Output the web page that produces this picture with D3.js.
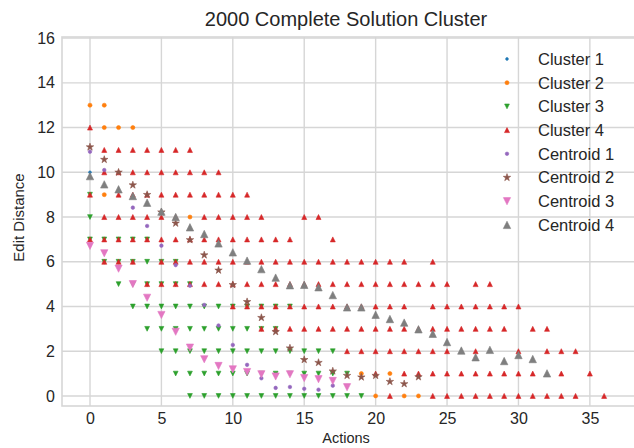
<!DOCTYPE html>
<html>
<head>
<meta charset="utf-8">
<script src="https://cdn.jsdelivr.net/npm/d3@7/dist/d3.min.js"></script>
<style>
  body { margin: 0; background: #fff; }
  svg text { font-family: "Liberation Sans", Arial, sans-serif; fill: #262626; }
</style>
</head>
<body>
<script>
// rows: [edit distance, [actions...]]
const cluster1Rows = [[10, [0]]];
const cluster2Rows = [
  [13, [0, 1]], [12, [1, 2, 3]], [9, [1]], [8, [7]],
  [1, [19, 21]], [0, [20, 22, 23]]
];
const cluster3Rows = [
  [9, [0]], [8, [0]], [7, [0, 1, 2, 3, 4]], [6, [1, 2, 3, 4, 5, 6]],
  [5, [2, 3, 4, 5, 6, 7]], [4, [3, 4, 5, 6, 7, 8, 9, 10, 11, 12, 13, 14]],
  [3, [4, 5, 6, 7, 8, 9, 10, 11, 12, 13]],
  [2, [5, 6, 7, 8, 9, 10, 11, 12, 13, 14, 15, 16, 17]],
  [1, [6, 7, 8, 9, 10, 11, 12, 13, 14, 15, 16, 17, 18]],
  [0, [7, 8, 9, 10, 11, 12, 13, 14, 15, 16, 17, 18, 19]]
];
const cluster4Rows = [
  [12, [0]],
  [11, [1, 2, 3, 4, 5, 6, 7]],
  [10, [1, 2, 3, 4, 5, 6, 7, 8, 9]],
  [9, [0, 2, 3, 4, 5, 6, 7, 8, 9, 10, 11]],
  [8, [1, 2, 3, 4, 5, 6, 8, 9, 10, 11, 12, 15, 16]],
  [7, [0, 1, 2, 3, 4, 5, 6, 7, 8, 9, 10, 11, 12, 13, 14, 17]],
  [6, [1, 2, 3, 5, 6, 7, 8, 9, 10, 11, 12, 13, 14, 15, 16, 17, 18, 19, 20, 21, 22, 24]],
  [5, [4, 5, 6, 7, 8, 9, 10, 11, 12, 13, 14, 15, 16, 17, 18, 19, 20, 21, 22, 23, 24, 25, 27, 28]],
  [4, [10, 11, 12, 13, 14, 15, 16, 17, 18, 19, 20, 21, 22, 24, 25, 26, 27, 28, 29, 30]],
  [3, [12, 13, 14, 15, 16, 17, 18, 19, 20, 21, 22, 23, 24, 25, 26, 27, 28, 29, 31, 32]],
  [2, [18, 19, 20, 21, 22, 23, 24, 25, 27, 30, 32, 33, 34]],
  [1, [20, 22, 23, 24, 25, 26, 27, 28, 29, 30, 31, 33, 35]],
  [0, [21, 24, 25, 26, 27, 28, 29, 30, 31, 32, 33, 34, 36]]
];
// centroids: [actions, edit distance]
const centroid1 = [[0, 10.92], [1, 10.1], [3, 8.42], [4, 7.6], [5, 6.72], [6, 5.85], [7, 4.93],
  [8, 4.07], [9, 3.15], [10, 2.28], [11, 1.39], [12, 0.79], [13, 0.36], [14, 0.4], [15, 0.32],
  [16, 0.28], [17, 0.46]];
const centroid2 = [[0, 11.13], [1, 10.57], [2, 10.0], [3, 9.43], [4, 9.0], [5, 8.22], [6, 7.72],
  [7, 6.98], [8, 6.3], [9, 5.62], [10, 4.97], [11, 4.21], [12, 3.5], [13, 2.87], [14, 2.14],
  [15, 1.62], [16, 1.49], [17, 1.11], [18, 0.91], [19, 0.84], [20, 0.91], [21, 0.64],
  [22, 0.54], [23, 0.85]];
const centroid3 = [[0, 6.71], [1, 6.38], [2, 5.69], [3, 5.0], [4, 4.39], [5, 3.62], [6, 2.87],
  [7, 2.16], [8, 1.64], [9, 1.34], [10, 1.19], [11, 1.07], [12, 0.97], [13, 0.87], [14, 0.97],
  [15, 0.8], [16, 0.75], [17, 0.67], [18, 0.39]];
const centroid4 = [[0, 9.83], [1, 9.46], [2, 9.24], [3, 8.94], [4, 8.64], [5, 8.24], [6, 8.0],
  [7, 7.54], [8, 7.24], [9, 6.82], [10, 6.42], [11, 6.05], [12, 5.67], [13, 5.29], [14, 4.95],
  [15, 4.97], [16, 4.86], [17, 4.51], [18, 3.96], [19, 3.96], [20, 3.63], [21, 3.44],
  [22, 3.28], [23, 2.98], [24, 2.78], [25, 2.41], [26, 2.03], [27, 1.73], [28, 2.06],
  [29, 1.56], [30, 1.83], [31, 1.65], [32, 1.01]];

const xTicks = [0, 5, 10, 15, 20, 25, 30, 35];
const yTicks = [0, 2, 4, 6, 8, 10, 12, 14, 16];
const seriesNames = ["Cluster 1", "Cluster 2", "Cluster 3", "Cluster 4",
  "Centroid 1", "Centroid 2", "Centroid 3", "Centroid 4"];

function fromRows(rows) {
  let pts = [];
  rows.forEach(r => r[1].forEach(a => pts.push([a, r[0]])));
  return pts;
}

let width = 634, height = 448;
let plotLeft = 62, plotRight = 637, plotTop = 37, plotBottom = 406;

let x = d3.scaleLinear().domain([-1.96, 38.3]).range([plotLeft, plotRight]);
let y = d3.scaleLinear().domain([-0.45, 16.05]).range([plotBottom, plotTop]);

let svg = d3.select("body").append("svg")
  .attr("width", width).attr("height", height);

let gridColor = "#d6d6d6";

// grid
svg.append("g").selectAll("line").data(xTicks).join("line")
  .attr("x1", d => x(d)).attr("x2", d => x(d))
  .attr("y1", plotTop).attr("y2", plotBottom)
  .attr("stroke", gridColor).attr("stroke-width", 1.4);
svg.append("g").selectAll("line").data(yTicks).join("line")
  .attr("x1", plotLeft).attr("x2", plotRight)
  .attr("y1", d => y(d)).attr("y2", d => y(d))
  .attr("stroke", gridColor).attr("stroke-width", 1.4);

// frame
svg.append("rect").attr("x", plotLeft).attr("y", plotTop)
  .attr("width", plotRight - plotLeft).attr("height", plotBottom - plotTop)
  .attr("fill", "none").attr("stroke", gridColor).attr("stroke-width", 1.6);

// axes
let xAxis = svg.append("g").attr("transform", `translate(0,${plotBottom})`)
  .call(d3.axisBottom(x).tickValues(xTicks).tickSize(0).tickPadding(7));
let yAxis = svg.append("g").attr("transform", `translate(${plotLeft},0)`)
  .call(d3.axisLeft(y).tickValues(yTicks).tickSize(0).tickPadding(7));
[xAxis, yAxis].forEach(g => {
  g.select(".domain").remove();
  g.selectAll("text").style("font-size", "16px")
    .style("font-family", "'Liberation Sans', Arial, sans-serif").attr("fill", "#262626");
});

// markers
function tri(h, down) {
  let s = down ? -1 : 1;
  return `M0,${-h * s}L${-h},${h * s}L${h},${h * s}Z`;
}
let star = d3.symbol().type(d3.symbolStar).size(17)();

let styles = [
  { color: "#1f77b4", path: d3.symbol().type(d3.symbolCircle).size(6)() },
  { color: "#ff7f0e", path: d3.symbol().type(d3.symbolCircle).size(13)() },
  { color: "#2ca02c", path: tri(2.4, true) },
  { color: "#d62728", path: tri(2.5, false) },
  { color: "#9467bd", path: d3.symbol().type(d3.symbolCircle).size(10)() },
  { color: "#8c564b", path: star },
  { color: "#e377c2", path: tri(3.6, true) },
  { color: "#7f7f7f", path: tri(3.7, false) }
];

let series = [fromRows(cluster1Rows), fromRows(cluster2Rows), fromRows(cluster3Rows),
  fromRows(cluster4Rows), centroid1, centroid2, centroid3, centroid4];

series.forEach((pts, i) => {
  svg.append("g").selectAll("path").data(pts).join("path")
    .attr("d", styles[i].path)
    .attr("transform", d => `translate(${x(d[0])},${y(d[1])})`)
    .attr("fill", styles[i].color)
    .attr("stroke", styles[i].color).attr("stroke-width", 0.6);
});

// legend
let legend = svg.append("g");
seriesNames.forEach((name, i) => {
  let ly = 59 + i * 23.7;
  legend.append("path").attr("d", styles[i].path)
    .attr("transform", `translate(507,${ly})`)
    .attr("fill", styles[i].color).attr("stroke", styles[i].color).attr("stroke-width", 0.6);
  legend.append("text").attr("x", 538).attr("y", ly).attr("dy", "0.36em")
    .style("font-size", "16.5px").text(name);
});

// titles
svg.append("text").attr("x", (plotLeft + 630) / 2).attr("y", 26)
  .attr("text-anchor", "middle").style("font-size", "20px")
  .text("2000 Complete Solution Cluster");
svg.append("text").attr("x", (plotLeft + 630) / 2).attr("y", 443)
  .attr("text-anchor", "middle").style("font-size", "14.5px").text("Actions");
svg.append("text").attr("transform", `translate(24,${(plotTop + plotBottom) / 2 - 4}) rotate(-90)`)
  .attr("text-anchor", "middle").style("font-size", "15px").text("Edit Distance");
</script>
</body>
</html>
